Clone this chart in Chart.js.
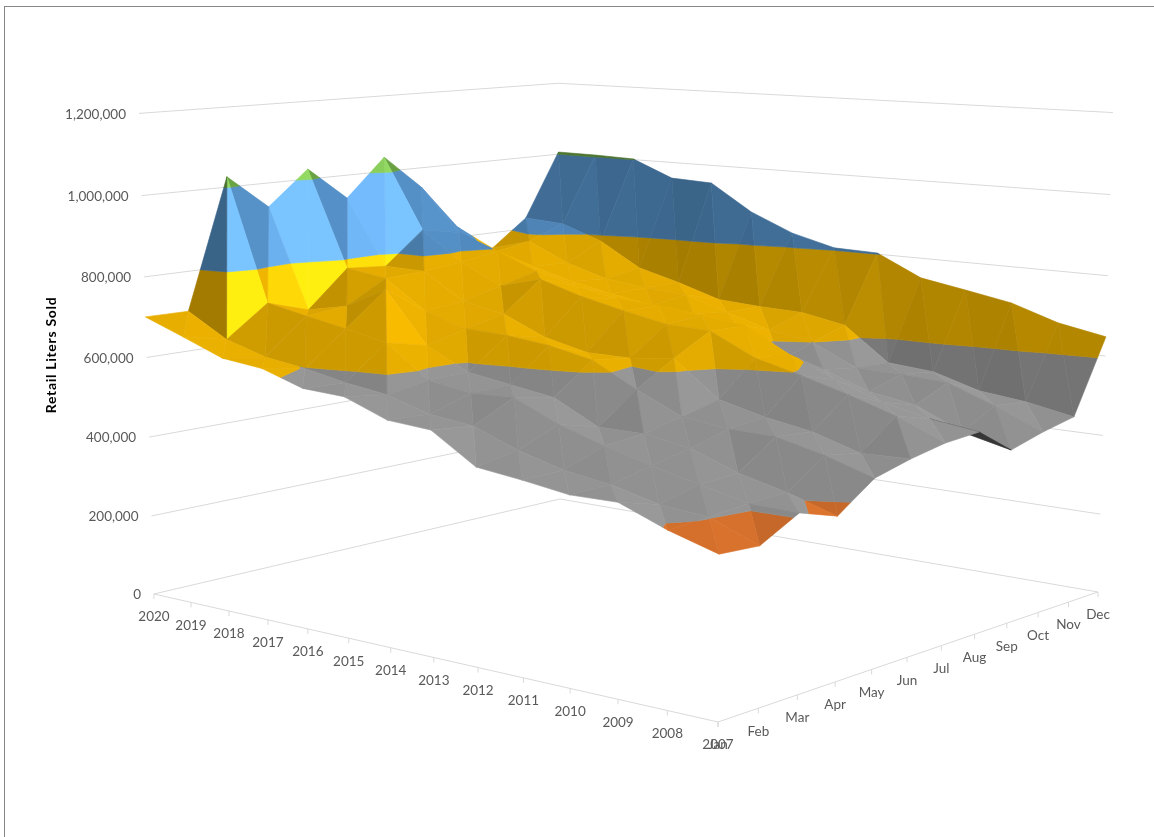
<!DOCTYPE html>
<html>
<head>
<meta charset="utf-8">
<title>Retail Liters Sold</title>
<script src="https://cdn.jsdelivr.net/npm/chart.js@4/dist/chart.umd.min.js"></script>
<style>
  html, body { margin: 0; padding: 0; background: #fff; }
  canvas { display: block; }
</style>
</head>
<body>
<canvas id="chart" width="1154" height="837"></canvas>
<script>
const months = ['Jan', 'Feb', 'Mar', 'Apr', 'May', 'Jun', 'Jul', 'Aug', 'Sep', 'Oct', 'Nov', 'Dec']
const years = [2007, 2008, 2009, 2010, 2011, 2012, 2013, 2014, 2015, 2016, 2017, 2018, 2019, 2020]

// Retail liters sold per month, one list per year
const sales2007 = [364000, 358000, 407000, 377000, 441000, 464000, 481000, 487000, 424000, 448000, 466000, 648000]
const sales2008 = [396000, 402000, 409000, 412000, 476000, 460000, 528000, 502000, 451000, 497000, 488000, 670000]
const sales2009 = [438000, 411000, 434000, 439000, 502000, 494000, 564000, 527000, 502000, 539000, 501000, 708000]
const sales2010 = [436000, 437000, 459000, 479000, 504000, 513000, 595000, 567000, 520000, 546000, 535000, 729000]
const sales2011 = [451000, 452000, 488000, 496000, 517000, 540000, 623000, 614000, 561000, 548000, 544000, 749000]
const sales2012 = [463000, 481000, 522000, 496000, 567000, 625000, 676000, 673000, 566000, 600000, 628000, 803000]
const sales2013 = [531000, 521000, 569000, 551000, 624000, 612000, 680000, 686000, 650000, 618000, 649000, 806000]
const sales2014 = [538000, 533000, 565000, 567000, 646000, 612000, 701000, 698000, 664000, 652000, 652000, 835000]
const sales2015 = [577000, 564000, 581000, 583000, 657000, 637000, 725000, 704000, 672000, 686000, 659000, 882000]
const sales2016 = [582000, 578000, 658000, 635000, 661000, 683000, 757000, 726000, 691000, 693000, 693000, 952000]
const sales2017 = [615000, 598000, 679000, 762000, 693000, 704000, 728000, 753000, 713000, 706000, 722000, 957000]
const sales2018 = [626000, 612000, 698000, 708000, 764000, 769000, 780000, 795000, 742000, 738000, 785000, 1002000]
const sales2019 = [664000, 642000, 718000, 686000, 779000, 771000, 854000, 835000, 770000, 787000, 823000, 1005000]
const sales2020 = [701000, 700000, 1026000, 939000, 1026000, 940000, 1038000, 948000, 828000, 757000, 830000, 1006000]

const salesByYear = [
  sales2007, sales2008, sales2009, sales2010, sales2011, sales2012, sales2013,
  sales2014, sales2015, sales2016, sales2017, sales2018, sales2019, sales2020
]

// One colour per 200,000 band of the value axis
const bandColors = ['#4472C4', '#ED7D31', '#A5A5A5', '#FFC000', '#5B9BD5', '#70AD47']

const gridColor = '#D9D9D9'
const textColor = '#595959'
const labelFont = '13.5px Lato, Carlito, sans-serif'

// Perspective camera: box coordinates (each 0..1) to canvas pixels
function project(u, v, w) {
  const d = 1 + 0.1877 * u + 0.1847 * v - 0.0364 * w
  return {
    x: (718 + 586.1 * u - 535.6 * v - 22.8 * w) / d,
    y: (722 - 18.9 * u - 18.3 * v - 573.5 * w) / d,
    d
  }
}

function clipBand(poly, limit, keepAbove) {
  const out = []
  for (let i = 0; i < poly.length; i++) {
    const a = poly[i]
    const b = poly[(i + 1) % poly.length]
    const aIn = keepAbove ? a.w >= limit : a.w <= limit
    const bIn = keepAbove ? b.w >= limit : b.w <= limit
    if (aIn) out.push(a)
    if (aIn !== bIn) {
      const t = (limit - a.w) / (b.w - a.w)
      out.push({ u: a.u + (b.u - a.u) * t, v: a.v + (b.v - a.v) * t, w: limit })
    }
  }
  return out
}

// Facet brightness: soft top light plus a highlight on steep front faces
function facetLight(a, b, c) {
  const h = 0.7
  const e1 = [b.u - a.u, b.v - a.v, (b.w - a.w) * h]
  const e2 = [c.u - a.u, c.v - a.v, (c.w - a.w) * h]
  let n = [
    e1[1] * e2[2] - e1[2] * e2[1],
    e1[2] * e2[0] - e1[0] * e2[2],
    e1[0] * e2[1] - e1[1] * e2[0]
  ]
  const len = Math.hypot(n[0], n[1], n[2]) || 1
  n = n.map((p) => p / len)
  if (n[2] < 0) n = n.map((p) => -p)
  const diffuse = Math.max(0, 0.5 * n[0] - 0.35 * n[1] + 0.85 * n[2])
  const spec = Math.max(0, -0.2 * n[0] - 0.85 * n[1] + 0.45 * n[2])
  const light = 0.64 + 0.29 * diffuse + 0.8 * Math.pow(spec, 20)
  return Math.min(1.16, light)
}

function shade(hex, k) {
  const lift = Math.max(0, k - 1) * 100
  const c = [1, 3, 5].map((i) => parseInt(hex.slice(i, i + 2), 16) * k + lift)
  return `rgb(${c.map((p) => Math.min(255, Math.round(p))).join(',')})`
}

function boxCoords(chart) {
  const { x, y, depth } = chart.scales
  return {
    u: (m) => (x.getPixelForValue(m) - x.left) / x.width,
    v: (yr) => (depth.getPixelForValue(yr) - depth.left) / depth.width,
    w: (val) => (y.bottom - y.getPixelForValue(val)) / y.height
  }
}

const axesPlugin = {
  id: 'axes3d',
  beforeDatasetsDraw(chart) {
    const { ctx, scales } = chart
    const box = boxCoords(chart)

    ctx.save()
    // Outer chart frame
    ctx.strokeStyle = '#868686'
    ctx.lineWidth = 1
    ctx.strokeRect(4.5, 6.5, 1160, 860)

    // Wall grid lines and floor edges
    ctx.strokeStyle = gridColor
    scales.y.ticks.forEach((t) => {
      const w = box.w(t.value)
      const l = project(0, 1, w)
      const b = project(1, 1, w)
      const r = project(1, 0, w)
      ctx.beginPath()
      ctx.moveTo(l.x, l.y)
      ctx.lineTo(b.x, b.y)
      ctx.lineTo(r.x, r.y)
      ctx.stroke()
    })
    const left = project(0, 1, 0)
    const front = project(0, 0, 0)
    const right = project(1, 0, 0)
    ctx.beginPath()
    ctx.moveTo(left.x, left.y)
    ctx.lineTo(front.x, front.y)
    ctx.lineTo(right.x, right.y)
    ctx.stroke()

    ctx.font = labelFont
    ctx.fillStyle = textColor
    ctx.textBaseline = 'middle'

    // Value axis labels, right aligned against the left wall
    ctx.textAlign = 'right'
    scales.y.ticks.forEach((t) => {
      const p = project(0, 1, box.w(t.value))
      ctx.fillText(t.label, p.x - 13, p.y + 1)
    })

    // Tick marks and labels along both floor edges
    ctx.textAlign = 'center'
    const tickAndLabel = (p, text) => {
      ctx.beginPath()
      ctx.moveTo(p.x, p.y)
      ctx.lineTo(p.x, p.y + 5)
      ctx.stroke()
      ctx.fillText(text, p.x, p.y + 23)
    }
    years.forEach((yr) => tickAndLabel(project(0, box.v(yr), 0), String(yr)))
    months.forEach((mo, m) => tickAndLabel(project(box.u(m), 0, 0), mo))

    // Value axis title
    ctx.translate(51, 355)
    ctx.rotate(-Math.PI / 2)
    ctx.font = 'bold 14px Lato, Carlito, sans-serif'
    ctx.letterSpacing = '0.7px'
    ctx.fillStyle = '#000'
    ctx.fillText('Retail Liters Sold', 0, 0)
    ctx.restore()
  }
}

const surfacePlugin = {
  id: 'surface3d',
  afterDatasetsDraw(chart) {
    const { ctx, data } = chart
    const box = boxCoords(chart)
    const bandTicks = chart.scales.y.ticks

    // Build the triangles of the surface from the datasets
    const vertex = (k, m) => {
      const ds = data.datasets[k]
      const pt = ds.data[m]
      return { u: box.u(pt.x), v: box.v(ds.year), w: box.w(pt.y) }
    }
    const facets = []
    for (let k = 0; k < data.datasets.length - 1; k++) {
      for (let m = 0; m < months.length - 1; m++) {
        const a = vertex(k, m)
        const b = vertex(k, m + 1)
        const c = vertex(k + 1, m + 1)
        const e = vertex(k + 1, m)
        const first = [a, b, c]
        const second = [a, c, e]
        first.frontRow = k === 0
        second.frontRow = k === 0
        facets.push(first, second)
      }
    }
    const depthOf = (t) => project(
      (t[0].u + t[1].u + t[2].u) / 3,
      (t[0].v + t[1].v + t[2].v) / 3,
      (t[0].w + t[1].w + t[2].w) / 3
    ).d
    facets.sort((p, q) => depthOf(q) - depthOf(p))

    ctx.save()
    ctx.lineWidth = 0.6
    ctx.lineJoin = 'round'
    facets.forEach((tri) => {
      const [a, b, c] = tri
      const pa = project(a.u, a.v, a.w)
      const pb = project(b.u, b.v, b.w)
      const pc = project(c.u, c.v, c.w)
      const area = (pb.x - pa.x) * (pc.y - pa.y) - (pb.y - pa.y) * (pc.x - pa.x)
      // The underside only shows along the front row
      const light = tri.frontRow && area > 0 ? 0.33 : facetLight(a, b, c)

      bandColors.forEach((hex, i) => {
        const lo = box.w(bandTicks[i].value)
        const hi = box.w(bandTicks[i + 1].value)
        const poly = clipBand(clipBand(tri, lo, true), hi, false)
        if (poly.length < 3) return
        ctx.beginPath()
        poly.forEach((q, n) => {
          const s = project(q.u, q.v, q.w)
          if (n === 0) ctx.moveTo(s.x, s.y)
          else ctx.lineTo(s.x, s.y)
        })
        ctx.closePath()
        const col = shade(hex, light)
        ctx.fillStyle = col
        ctx.strokeStyle = col
        ctx.fill()
        ctx.stroke()
      })
    })
    ctx.restore()
  }
}

new Chart(document.getElementById('chart').getContext('2d'), {
  type: 'scatter',
  data: {
    datasets: years.map((yr, k) => ({
      label: String(yr),
      year: yr,
      data: salesByYear[k].map((val, m) => ({ x: m, y: val })),
      pointRadius: 0,
      showLine: false
    }))
  },
  options: {
    responsive: false,
    animation: false,
    layout: { padding: 0 },
    scales: {
      x: { type: 'linear', min: 0, max: 11, display: false },
      depth: { type: 'linear', axis: 'x', min: 2007, max: 2020, display: false },
      y: {
        type: 'linear',
        min: 0,
        max: 1200000,
        display: false,
        ticks: { stepSize: 200000, callback: (val) => val.toLocaleString('en-US') }
      }
    },
    plugins: {
      legend: { display: false },
      tooltip: { enabled: false },
      title: { display: false }
    }
  },
  plugins: [axesPlugin, surfacePlugin]
})
</script>
</body>
</html>
